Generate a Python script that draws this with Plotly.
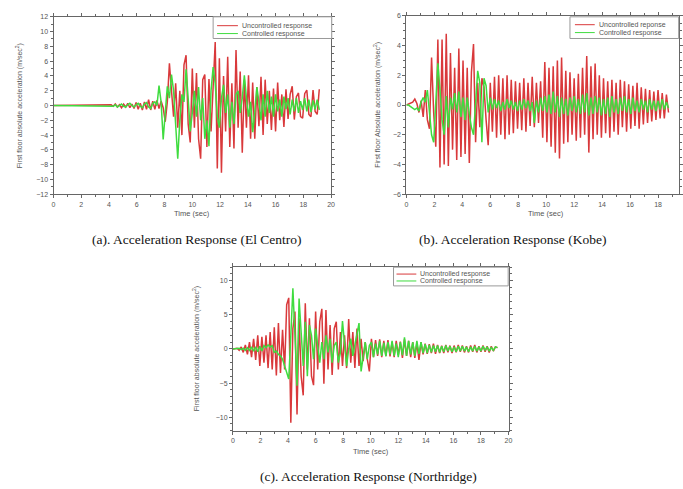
import numpy as np
import plotly.graph_objects as go

# ---------------- data ----------------
DT = 0.15  # sampling step of the listed extremes (s)

# (a) El Centro: listed from t = 4.0 s (flat zero before)
ELC_T0 = 4.0
elc_unc = [0, 0.1, -0.1, 0.2, -0.2, 0.1, -0.3, 0.2, -0.2, 0.3, -0.3, 0.2, -0.4, 0.4, -0.5, 0.3,
           -0.6, 0.5, -0.5, 0.8, -0.6, 0.6, -0.5, 0.7, -0.4, 0.6, -0.3, -2.2, 0.5, 5.7, 2.0, -1.5,
           3.0, -3.0, 2.0, -4.0, 5.5, 6.8, -2.5, -5.0, 5.0, -3.0, 4.4, -4.5, -7.2, 3.5, 4.2, -5.6,
           3.6, -3.5, 2.5, 8.6, -8.5, 6.4, -9.1, 4.0, -3.5, 6.6, -5.6, 3.0, -5.8, 7.5, -3.0, 4.6,
           -6.4, 3.5, -3.0, 4.1, -4.5, 3.1, -4.5, 2.5, -2.8, 3.9, -4.0, 3.5, -2.5, 2.0, -3.3, 2.3,
           -3.5, 3.1, -2.0, 1.5, -2.9, 2.2, -1.8, 1.5, 2.6, -1.9, 1.2, 1.7, -1.5, -1.7, 1.6, 2.1,
           -1.2, -1.5, 2.1, -0.8, -1.2, 2.2]
elc_con = [0, 0, -0.1, 0.1, -0.2, 0, 0.2, -0.1, -0.2, 0.1, 0.3, 0, -0.2, 0.1, 0.3, -0.1,
           -0.3, 0.2, 0.4, -0.2, -0.4, 0.3, 0.5, 0.0, 2.7, 0.5, -4.6, -1.0, 2.6, 1.0, 4.2, 2.0,
           -2.0, -7.2, -2.0, 1.5, 0.5, 4.9, 1.0, -3.5, -1.0, 2.0, -1.5, 2.5, -2.0, 1.0, -4.5, -2.0,
           -5.5, 2.0, 5.2, 3.0, -1.5, -3.0, 1.0, 2.8, -1.0, 1.5, -3.0, 0.5, -2.5, 1.5, 2.0, -1.0,
           1.0, 4.1, 1.0, -1.5, 0.5, -3.6, -1.0, 2.5, 0.5, -2.0, 1.5, -1.5, 2.0, -1.0, 1.2, -1.5,
           1.5, -0.8, 0.8, -1.5, 1.2, -0.5, 1.0, -1.2, 0.8, -0.8, 1.0, -1.0, 0.6, -0.6, 1.0, -0.8,
           0.8, -0.9, 0.7, -0.5, 0.8, -0.6]

# (b) Kobe: listed from t = 0 s
KOB_T0 = 0.0
kob_unc = [0, 0.05, 0.1, 0.2, 0.4, 0.1, -0.5, 0.3, -0.8, 1.0, -1.0, -1.6, 3.2, -0.5, -2.8, 4.4,
           -4.2, 4.4, -4.0, 4.8, -4.1, 3.5, -3.0, 2.5, -3.7, 3.8, -3.5, 3.0, -3.3, 2.5, -3.9, 2.2,
           4.1, -2.5, 1.5, -1.5, 1.8, 1.2, -1.0, -2.7, 1.5, -1.8, 1.9, -2.2, 2.0, -2.0, 1.8, -2.3,
           2.0, -2.0, 1.7, -1.9, 1.6, -1.6, 1.5, -1.7, 1.8, -1.8, 1.5, -1.4, 1.9, -1.5, 1.5, -1.2,
           1.6, -2.2, 2.9, -2.5, 2.5, -2.8, 2.6, -3.2, 3.0, -3.6, 3.2, -2.6, 2.3, -2.5, 2.2, -2.0,
           1.8, -2.4, 2.1, -2.2, 2.5, -2.0, 3.3, -3.2, 2.6, -2.3, 2.8, -2.0, 2.0, -2.2, 1.8, -1.9,
           1.6, -2.2, 1.7, -1.8, 1.5, -2.0, 1.7, -1.5, 1.6, -1.8, 1.4, -1.6, 1.3, -1.4, 1.5, -1.6,
           1.2, -1.3, 1.1, -1.2, 1.0, -1.1, 0.9, -1.0, 1.0, -0.9, 0.8, -0.9, 0.7, -0.5]
kob_con = [0, 0, -0.1, -0.2, -0.3, -0.2, -0.4, 0.2, 0.5, 0.2, 1.0, -0.5, -2.0, -2.5, 0.5, 2.8,
           1.0, -1.0, -2.0, 0.6, -1.5, 0.5, -0.3, 0.8, -0.5, 0.9, -0.8, 0.5, -1.0, 0.5, -0.6, -1.5,
           -2.0, 0.5, 2.3, 1.5, -2.5, 1.8, 1.3, -0.5, 0.5, -0.3, 0.4, -0.2, 0.3, -0.4, 0.2, -0.3,
           0.4, -0.2, 0.3, -0.3, 0.2, -0.4, 0.3, -0.3, 0.4, -0.2, 0.3, -0.4, 0.2, -1.2, 0.3, -0.5,
           0.5, -0.4, 0.6, -0.5, 0.7, -0.6, 0.9, -0.5, 0.6, -0.8, 0.5, -0.6, 0.4, -0.7, 0.5, -0.4,
           0.6, -0.5, 0.4, -0.6, 0.7, -0.5, 0.8, -0.7, 0.5, -0.6, 0.6, -0.5, 0.5, -0.7, 0.4, -0.6,
           0.5, -0.8, 0.6, -0.5, 0.4, -0.6, 0.5, -0.4, 0.6, -0.5, 0.4, -0.6, 0.5, -0.4, 0.3, -0.5,
           0.4, -0.3, 0.3, -0.5, 0.4, -0.3, 0.3, -0.4, 0.3, -0.3, 0.4, -0.3, 0.2, -0.2]

# (c) Northridge: listed from t = 0 s
NOR_T0 = 0.0
nor_unc = [0, 0, 0.1, -0.2, 0.3, -0.5, 0.6, -0.8, 1.0, -1.2, 1.5, -1.6, 2.0, -2.5, 1.8, -2.0,
           2.0, -2.8, 2.5, -3.0, 3.2, -3.9, 3.8, -3.5, 2.8, -3.0, 6.5, 7.5, -10.8, 3.0, 5.5, -9.6,
           4.5, -4.0, -6.8, 6.7, -3.0, 4.5, -4.0, -5.3, 5.5, -3.0, 4.0, 5.9, -5.1, 5.7, -3.0, 3.5,
           -3.8, 3.0, 4.0, -3.0, 2.5, -2.5, 2.0, -2.8, 4.4, -2.0, 2.5, -2.8, 3.0, -2.5, 1.5, -1.8,
           1.0, -1.5, -3.3, 1.5, -1.2, 1.3, -1.0, 1.4, -1.2, 1.2, -1.0, 1.3, -1.1, 1.0, -1.2, 1.2,
           -0.9, 1.1, -1.3, 1.4, -1.0, 1.2, -1.2, 1.0, -1.3, 0.9, -1.6, 1.0, -0.8, 0.8, -0.7, 0.7,
           -0.6, 0.8, -0.7, 0.6, -0.6, 0.5, -0.6, 0.6, -0.5, 0.5, -0.6, 0.5, -0.5, 0.6, -0.4, 0.5,
           -0.5, 0.4, -0.5, 0.5, -0.4, 0.6, -0.5, 0.4, -0.4, 0.5, -0.4, 0.4, -0.5, 0.4, -0.3, 0.3, 0.2]
nor_con = [0, 0, 0, 0.1, -0.1, 0.1, -0.2, 0.2, -0.2, 0.3, -0.3, 0.3, -0.4, 0.4, -0.3, 0.5,
           0.2, 0.6, 0.3, 0.5, -0.5, -0.3, -0.8, -1.0, -1.5, -2.5, -3.5, -4.4, 2.0, 8.9, 2.0, -5.4,
           7.4, 3.0, -2.5, 4.0, -4.0, 3.5, 2.0, -1.5, 3.0, 0.5, -2.0, 1.0, -1.5, 2.0, -0.5, 1.5,
           -2.0, 0.5, 1.0, -2.0, -0.5, 4.1, 1.0, -2.5, 0.0, 1.5, -1.0, 0.5, 2.0, 3.8, -3.3, -1.0,
           1.0, -1.5, 0.5, 1.0, -1.2, 0.8, -0.8, 1.2, -1.0, 0.9, -1.1, 1.0, -0.8, 1.2, -1.0, 0.8,
           -1.2, 1.0, -0.9, 1.7, -1.0, 1.2, -0.8, 1.0, -1.0, 1.2, -0.7, 1.0, -0.6, 0.7, -0.6, 0.6,
           -0.5, 0.5, -0.4, 0.5, -0.5, 0.4, -0.4, 0.5, -0.3, 0.4, -0.4, 0.3, -0.4, 0.4, -0.3, 0.4,
           -0.3, 0.3, -0.4, 0.3, -0.3, 0.4, -0.3, 0.3, -0.3, 0.4, -0.2, 0.3, -0.3, 0.2, -0.2, 0.3, 0.2]

X_TICKS = [0, 2, 4, 6, 8, 10, 12, 14, 16, 18, 20]
Y_TICKS_A = list(range(-12, 13, 2))
Y_TICKS_B = list(range(-6, 7, 2))
Y_TICKS_C = [-10, -5, 0, 5, 10]

CAPTIONS = ["(a). Acceleration Response (El Centro)",
            "(b). Acceleration Response (Kobe)",
            "(c). Acceleration Response (Northridge)"]
YTITLES = ["First floor absolute acceleration (m/sec<sup>2</sup>)",
           "First floor Absolute acceleration (m/sec<sup>2</sup>)",
           "First floor absolute acceleration (m/sec<sup>2</sup>)"]
LEG_UNC = ["Uncontrolled response", "Uncontrolled reponse", "Uncontrolled response"]
LEG_CON = "Controlled response"


def times(t0, vals, lead_zero):
    t = list(np.round(t0 + DT * np.arange(len(vals)), 3))
    v = list(vals)
    if lead_zero:
        t = [0.0] + t
        v = [0.0] + v
    return t, v


RED = "#d9393b"
GREEN = "#3fdc3f"
W, H = 683, 489
FONT = "Liberation Sans, Arial"

fig = go.Figure()
series = [
    (ELC_T0, elc_unc, elc_con, True),
    (KOB_T0, kob_unc, kob_con, False),
    (NOR_T0, nor_unc, nor_con, False),
]
for k, (t0, unc, con, lead) in enumerate(series):
    ax = "" if k == 0 else str(k + 1)
    tu, vu = times(t0, unc, lead)
    tc, vc = times(t0, con, lead)
    fig.add_trace(go.Scatter(x=tu, y=vu, mode="lines", name=LEG_UNC[k],
                             line=dict(color=RED, width=1.5),
                             xaxis="x" + ax, yaxis="y" + ax, showlegend=False))
    fig.add_trace(go.Scatter(x=tc, y=vc, mode="lines", name=LEG_CON,
                             line=dict(color=GREEN, width=1.5),
                             xaxis="x" + ax, yaxis="y" + ax, showlegend=False))

# pixel boxes of the three plot areas: (left, right, top, bottom)
boxes = [(52, 332, 13, 193), (408, 683, 12, 193), (233, 511, 267, 433)]
xranges = [[0, 20], [0, 19.5], [0, 20]]
yranges = [[-12, 12], [-6, 6], [-12, 12]]
yticks = [Y_TICKS_A, Y_TICKS_B, Y_TICKS_C]
ytitle_px = [18, 378, 197]
caption_pos = [(197, 239), (515, 239), (370, 479)]
xtitle_pos = [(192, 213), (549, 213), (372, 454)]
# legend boxes: (left, right, top, bottom, line_x0, line_x1, row1_y, row2_y)
legend_px = [(213, 333, 13, 35, 217, 238, 22, 30),
             (573, 683, 13, 35, 578, 598, 21, 29),
             (395, 511, 267, 286, 398, 418, 274, 281)]

tickfont = dict(family=FONT, size=7, color="#555555")
axis_common = dict(showline=True, linecolor="#666666", linewidth=1, mirror="ticks",
                   ticks="outside", ticklen=3, tickcolor="#666666", showgrid=False,
                   zeroline=False, tickfont=tickfont,
                   minor=dict(ticks="outside", ticklen=2, tickcolor="#666666"))

layout = dict(width=W, height=H, margin=dict(l=0, r=0, t=0, b=0),
              paper_bgcolor="white", plot_bgcolor="white", showlegend=False,
              font=dict(family=FONT, color="#444444"))
annotations = []
shapes = []


def px(x):
    return x / W


def py(y):
    return 1 - y / H


for k in range(3):
    l, r, t, b = boxes[k]
    ax = "" if k == 0 else str(k + 1)
    layout["xaxis" + ax] = dict(axis_common, domain=[px(l), px(r)], range=xranges[k],
                                tickvals=X_TICKS, anchor="y" + ax)
    layout["yaxis" + ax] = dict(axis_common, domain=[py(b), py(t)], range=yranges[k],
                                tickvals=yticks[k], anchor="x" + ax)
    annotations.append(dict(text=YTITLES[k], x=px(ytitle_px[k]), y=py((t + b) / 2),
                            xref="paper", yref="paper", xanchor="center", yanchor="middle",
                            textangle=-90, showarrow=False,
                            font=dict(family=FONT, size=7, color="#555555")))
    xx, xy = xtitle_pos[k]
    annotations.append(dict(text="Time (sec)", x=px(xx), y=py(xy), xref="paper", yref="paper",
                            xanchor="center", yanchor="middle", showarrow=False,
                            font=dict(family=FONT, size=7.5, color="#555555")))
    cx, cy = caption_pos[k]
    annotations.append(dict(text=CAPTIONS[k], x=px(cx), y=py(cy), xref="paper", yref="paper",
                            xanchor="center", yanchor="middle", showarrow=False, borderpad=0,
                            font=dict(family="Liberation Serif, Times New Roman", size=13.5,
                                      color="#111111")))
    # legend box drawn by hand
    L, R, T, B, lx0, lx1, r1, r2 = legend_px[k]
    shapes.append(dict(type="rect", xref="paper", yref="paper", x0=px(L), x1=px(R) - 0.0005,
                       y0=py(B), y1=py(T), line=dict(color="#999999", width=1),
                       fillcolor="white", layer="above"))
    for ry, col, label in [(r1, RED, LEG_UNC[k]), (r2, GREEN, LEG_CON)]:
        shapes.append(dict(type="line", xref="paper", yref="paper", x0=px(lx0), x1=px(lx1),
                           y0=py(ry), y1=py(ry), line=dict(color=col, width=1), layer="above"))
        annotations.append(dict(text=label, x=px(lx1 + 2), y=py(ry), xref="paper", yref="paper",
                                xanchor="left", yanchor="middle", showarrow=False,
                                font=dict(family=FONT, size=7, color="#555555")))

layout["annotations"] = annotations
layout["shapes"] = shapes
fig.update_layout(**layout)
fig.write_html("out.html", config={"displayModeBar": False},
               post_script="document.body.style.margin='0';document.body.style.overflow='hidden';")
